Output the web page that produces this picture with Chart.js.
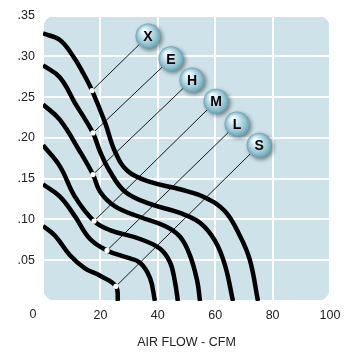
<!DOCTYPE html>
<html>
<head>
<meta charset="utf-8">
<script src="https://cdn.jsdelivr.net/npm/chart.js@4/dist/chart.umd.min.js"></script>
<style>
  body { margin: 0; background: #fff; }
  canvas { display: block; }
</style>
</head>
<body>
<canvas id="fan_chart" width="353" height="354"></canvas>
<script>
// fan curves, air flow (CFM) vs static pressure
let curveNames = ['X', 'E', 'H', 'M', 'L', 'S'];

let flowX = [0, 5.9, 10.5, 13.9, 17.1, 21.6, 25.1, 29.6, 37.3, 47.7, 56.4, 63.4, 68.6, 72.1, 74.9];
let pressX = [.328, .320, .300, .280, .258, .219, .183, .159, .146, .137, .127, .110, .080, .050, 0];

let flowE = [0, 5.9, 11.1, 17.4, 19.9, 23.3, 28.6, 37.3, 47.7, 54.7, 59.9, 63.4, 66.2];
let pressE = [.289, .274, .243, .206, .183, .159, .134, .119, .108, .096, .074, .044, 0];

let flowH = [0, 5.9, 12.9, 17.4, 19.9, 25.1, 33.8, 42.5, 47.7, 51.2, 53.7, 54.7];
let pressH = [.241, .222, .183, .155, .134, .116, .103, .092, .079, .056, .025, 0];

let flowM = [0, 5.9, 11.1, 17.8, 23.3, 33.8, 40.8, 44.3, 46, 47];
let pressM = [.191, .165, .128, .098, .087, .076, .064, .047, .023, 0];

let flowL = [0, 5.9, 11.1, 16.4, 22.3, 28.6, 33.8, 37.3, 39];
let pressL = [.143, .128, .104, .076, .062, .054, .047, .028, 0];

let flowS = [0, 4.2, 9.4, 14.6, 19.9, 25.4, 26.1];
let pressS = [.092, .080, .056, .040, .031, .018, 0];

// white dots on the curves and the lettered tags they point to
let dotFlow = [17.1, 17.4, 17.4, 17.8, 22.3, 25.4];
let dotPress = [.258, .206, .155, .098, .062, .018];
let tagFlow = [36.6, 44.6, 51.9, 60.3, 67.6, 75.3];
let tagPress = [.325, .297, .271, .245, .217, .191];

let xTicks = [0, 20, 40, 60, 80, 100];
let yTicks = [0, .05, .10, .15, .20, .25, .30, .35];

let flows = [flowX, flowE, flowH, flowM, flowL, flowS];
let presses = [pressX, pressE, pressH, pressM, pressL, pressS];

let fontFamily = '"Liberation Sans", Arial, Helvetica, sans-serif';
let textColor = '#222';

let datasets = [];
flows.forEach((f, i) => {
    datasets.push({
        label: curveNames[i],
        data: f.map((v, k) => ({ x: v, y: presses[i][k] })),
        showLine: true,
        borderColor: '#000',
        borderWidth: 4.5,
        pointRadius: 0,
        tension: 0.4,
        order: 3
    });
});
// leader lines
dotFlow.forEach((v, i) => {
    datasets.push({
        label: 'lead ' + curveNames[i],
        data: [{ x: v, y: dotPress[i] }, { x: tagFlow[i], y: tagPress[i] }],
        showLine: true,
        borderColor: '#000',
        borderWidth: 0.9,
        pointRadius: 0,
        order: 2
    });
});
datasets.push({
    label: 'dots',
    data: dotFlow.map((v, i) => ({ x: v, y: dotPress[i] })),
    showLine: false,
    pointRadius: 2.6,
    pointBackgroundColor: '#fff',
    pointBorderWidth: 0,
    order: 1
});

// rounded light blue plot area
let plotBackground = {
    id: 'plotBackground',
    beforeDraw(chart) {
        let c = chart.ctx;
        let a = chart.chartArea;
        c.save();
        c.fillStyle = '#cde3e9';
        c.beginPath();
        c.roundRect(a.left, a.top, a.right - a.left, a.bottom - a.top, 13);
        c.fill();
        c.restore();
    }
};

// the lettered balls and the lone "0" under the corner
let tagBalls = {
    id: 'tagBalls',
    afterDatasetsDraw(chart) {
        let c = chart.ctx;
        let xs = chart.scales.x;
        let ys = chart.scales.y;
        let r = 12.5;
        tagFlow.forEach((v, i) => {
            let x = xs.getPixelForValue(v);
            let y = ys.getPixelForValue(tagPress[i]);
            c.save();
            c.shadowColor = 'rgba(0,0,0,0.45)';
            c.shadowBlur = 4;
            c.shadowOffsetX = 2;
            c.shadowOffsetY = 2;
            let g = c.createRadialGradient(x - r * 0.35, y - r * 0.45, 1, x, y, r);
            g.addColorStop(0, '#ffffff');
            g.addColorStop(0.3, '#d3ebf1');
            g.addColorStop(0.75, '#95c5d2');
            g.addColorStop(1, '#68a2b3');
            c.fillStyle = g;
            c.beginPath();
            c.arc(x, y, r, 0, Math.PI * 2);
            c.fill();
            c.restore();
            c.save();
            c.fillStyle = '#000';
            c.font = 'bold 14px ' + fontFamily;
            c.textAlign = 'center';
            c.textBaseline = 'middle';
            c.fillText(curveNames[i], x, y + 1);
            c.restore();
        });
        c.save();
        c.fillStyle = textColor;
        c.font = '12.5px ' + fontFamily;
        c.textAlign = 'center';
        c.textBaseline = 'middle';
        c.fillText('0', xs.getPixelForValue(0) - 10, chart.chartArea.bottom + 14);
        c.restore();
    }
};

let ctx = document.querySelector('#fan_chart').getContext('2d');
window.fanChart = new Chart(ctx, {
    type: 'scatter',
    data: { datasets: datasets },
    options: {
        responsive: false,
        animation: false,
        layout: { padding: { top: 12, right: 23, left: 0, bottom: 0 } },
        plugins: {
            legend: { display: false },
            tooltip: { enabled: false }
        },
        scales: {
            x: {
                type: 'linear',
                min: xTicks[0],
                max: xTicks[xTicks.length - 1],
                afterBuildTicks: s => { s.ticks = xTicks.map(v => ({ value: v })); },
                afterFit: s => { s.height = 53; },
                ticks: {
                    padding: 7,
                    color: textColor,
                    maxRotation: 0,
                    font: { family: fontFamily, size: 12.5 },
                    callback: v => v === 0 ? '' : String(v)
                },
                grid: { color: '#fff', lineWidth: 2, drawTicks: false },
                border: { display: false },
                title: {
                    display: true,
                    text: 'AIR FLOW - CFM',
                    color: textColor,
                    font: { family: fontFamily, size: 12.5 },
                    padding: { top: 0, bottom: 4 }
                }
            },
            y: {
                type: 'linear',
                min: yTicks[0],
                max: yTicks[yTicks.length - 1],
                afterBuildTicks: s => { s.ticks = yTicks.map(v => ({ value: v })); },
                afterFit: s => { s.width = 43; },
                ticks: {
                    padding: 8,
                    color: textColor,
                    font: { family: fontFamily, size: 12.5 },
                    callback: v => v === 0 ? '' : v.toFixed(2).replace(/^0/, '')
                },
                grid: { color: '#fff', lineWidth: 2, drawTicks: false },
                border: { display: false }
            }
        }
    },
    plugins: [plotBackground, tagBalls]
});
</script>
</body>
</html>
